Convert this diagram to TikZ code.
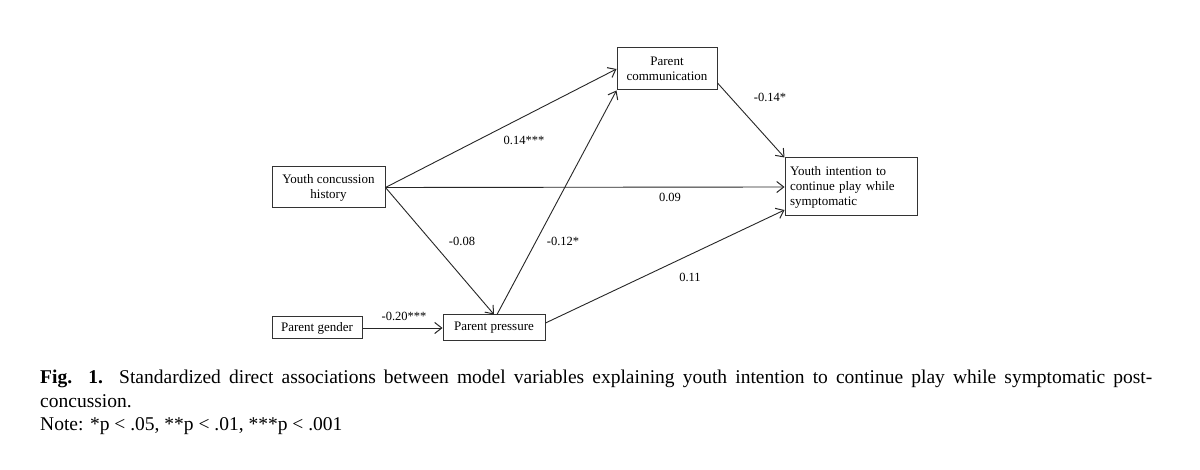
\documentclass[tikz,border=0pt]{standalone}
\usepackage{fontspec}
\setmainfont{Liberation Serif}
\usetikzlibrary{arrows.meta}
\begin{document}
\begin{tikzpicture}[x=1pt,y=-1pt,
  box/.style={draw=black!80, line width=1pt, inner sep=0pt, font=\fontsize{13}{15}\selectfont},
  conn/.style={draw=black!85, line width=0.9pt, -{Straight Barb[length=7pt,width=11pt,line width=1pt]}},
  lab/.style={font=\fontsize{12.5}{15}\selectfont, inner sep=0pt},
  captext/.style={font=\fontsize{19.5}{23}\selectfont, inner sep=0pt, anchor=base west}]
\useasboundingbox (0,0) rectangle (1200,470);
\fill[white] (0,0) rectangle (1200,470);

\node[box, minimum width=113pt, minimum height=41pt, align=center] (yh) at (328.5,187.5) {Youth concussion\\history};
\node[box, minimum width=100pt, minimum height=42pt, align=center] (pc) at (667,69) {Parent\\communication};
\node[box, minimum width=132pt, minimum height=58pt, align=left, text width=122pt] (yi) at (851,187) {Youth intention to\\continue play while\\symptomatic};
\node[box, minimum width=90pt, minimum height=22pt] (pg) at (317,328) {Parent gender};
\node[box, minimum width=102pt, minimum height=26pt] (pp) at (494,328) {Parent pressure};

\draw[conn] (yh.east) -- (pc.west);
\draw[conn] (yh.east) -- (yi.west);
\draw[conn] (yh.east) -- (pp.north);
\draw[conn] ([xshift=3pt]pp.north) -- (pc.south west);
\draw[conn] ([yshift=5pt]pp.east) -- ([yshift=-23pt]yi.west);
\draw[conn] ([yshift=-14pt]pc.east) -- (yi.north west);
\draw[conn] (pg.east) -- (pp.west);

\node[lab] (l1) at (524,140) {0.14***};
\node[lab] (l2) at (670,197) {0.09};
\node[lab] (l3) at (462,241) {-0.08};
\node[lab] (l4) at (563,241) {-0.12*};
\node[lab] (l5) at (690,277) {0.11};
\node[lab] (l6) at (770,97) {-0.14*};
\node[lab] (l7) at (404,316) {-0.20***};

\node[captext] (c1) at (40,384) {\makebox[1112pt][s]{\textbf{Fig. 1.} Standardized direct associations between model variables explaining youth intention to continue play while symptomatic post-}};
\node[captext] (c2) at (40,407) {concussion.};
\node[captext] (c3) at (40,430) {Note: *p {\textless} .05, **p {\textless} .01, ***p {\textless} .001};
\end{tikzpicture}
\end{document}
